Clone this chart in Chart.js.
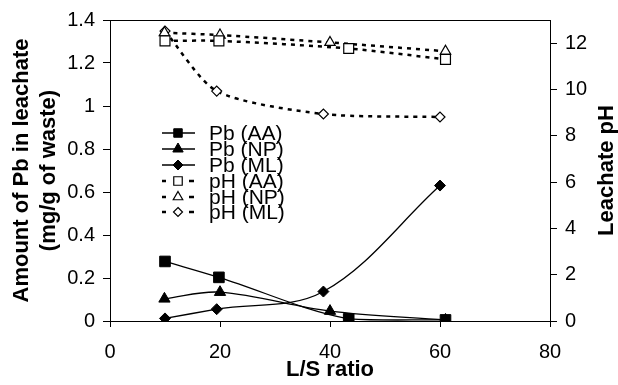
<!DOCTYPE html>
<html>
<head>
<meta charset="utf-8">
<script src="https://cdn.jsdelivr.net/npm/chart.js@4.4.1/dist/chart.umd.min.js"></script>
<style>
  html, body { margin: 0; padding: 0; background: #fff; }
  #wrap { width: 618px; height: 385px; position: relative; }
</style>
</head>
<body>
<div id="wrap"><canvas id="c" width="618" height="385"></canvas></div>
<script>
// L/S ratios per waste sample
const lsAA = [10, 19.8, 43.4, 61];
const lsNP = [9.9, 20, 40, 61];
const lsML = [10, 19.4, 38.8, 60];
// Amount of Pb in leachate (mg/g of waste)
const pbAA = [0.277, 0.203, 0.01, 0.005];
const pbNP = [0.103, 0.134, 0.046, 0.005];
const pbML = [0.012, 0.055, 0.137, 0.63];
// Leachate pH
const phAA = [12.1, 12.1, 11.77, 11.3];
const phNP = [12.45, 12.35, 12.03, 11.65];
const phML = [12.52, 9.93, 8.94, 8.81];
// labels
const seriesLabels = ['Pb (AA)', 'Pb (NP)', 'Pb (ML)', 'pH (AA)', 'pH (NP)', 'pH (ML)'];
const xTitle = 'L/S ratio';
const yTitle = ['Amount of Pb in leachate', '(mg/g of waste)'];
const y2Title = 'Leachate pH';

const FONT = "'Liberation Sans', Arial, sans-serif";
const pts = (xs, ys) => xs.map((x, i) => ({x: x, y: ys[i]}));

function pbSet(label, xs, ys, style, r) {
  return { label, data: pts(xs, ys), yAxisID: 'y', borderColor: '#000', backgroundColor: '#000',
    borderWidth: 1.3, pointStyle: style, pointRadius: r, pointHoverRadius: r,
    pointBackgroundColor: '#000', pointBorderColor: '#000', pointBorderWidth: 1,
    showLine: true, tension: 0.35, fill: false };
}
function phSet(label, xs, ys, style, r) {
  return { label, data: pts(xs, ys), yAxisID: 'y2', borderColor: '#000', backgroundColor: '#fff',
    borderWidth: 2.5, borderDash: [4, 5], pointStyle: style, pointRadius: r, pointHoverRadius: r,
    pointBackgroundColor: '#fff', pointBorderColor: '#000', pointBorderWidth: 1.2,
    showLine: true, tension: 0.25, fill: false };
}

const datasets = [
  pbSet(seriesLabels[0], lsAA, pbAA, 'rect', 7.5),
  pbSet(seriesLabels[1], lsNP, pbNP, 'triangle', 6.5),
  pbSet(seriesLabels[2], lsML, pbML, 'rectRot', 5.5),
  phSet(seriesLabels[3], lsAA, phAA, 'rect', 7),
  phSet(seriesLabels[4], lsNP, phNP, 'triangle', 6),
  phSet(seriesLabels[5], lsML, phML, 'rectRot', 5),
];
// draw pH lines beneath the Pb ones
datasets.forEach((d, i) => d.order = i < 3 ? 0 : 1);

function marker(ctx, style, x, y, r, fill) {
  ctx.beginPath();
  if (style === 'rect') {
    const s = r * Math.SQRT1_2;
    ctx.rect(x - s, y - s, 2 * s, 2 * s);
  } else if (style === 'triangle') {
    ctx.moveTo(x, y - r);
    ctx.lineTo(x + r * Math.sin(Math.PI / 3), y + r * 0.5);
    ctx.lineTo(x - r * Math.sin(Math.PI / 3), y + r * 0.5);
    ctx.closePath();
  } else {
    ctx.moveTo(x, y - r); ctx.lineTo(x + r, y); ctx.lineTo(x, y + r); ctx.lineTo(x - r, y); ctx.closePath();
  }
  ctx.fillStyle = fill; ctx.fill();
  ctx.strokeStyle = '#000'; ctx.stroke();
}

const extras = {
  id: 'extras',
  afterDraw(chart) {
    const ctx = chart.ctx, a = chart.chartArea;
    ctx.save();
    // top frame line
    ctx.strokeStyle = '#000'; ctx.lineWidth = 1;
    ctx.beginPath(); ctx.moveTo(a.left, a.top + 0.5); ctx.lineTo(a.right, a.top + 0.5); ctx.stroke();
    // right title, reading bottom-to-top
    ctx.save();
    ctx.translate(607, (a.top + a.bottom) / 2);
    ctx.rotate(-Math.PI / 2);
    ctx.font = 'bold 22px ' + FONT; ctx.fillStyle = '#000';
    ctx.textAlign = 'center'; ctx.textBaseline = 'middle';
    ctx.fillText(y2Title, 0, 0);
    ctx.restore();
    // legend
    const x0 = 162, x1 = 195, xm = 178, xt = 209;
    const ys = [133, 149, 165, 181, 197, 212];
    ctx.font = '21px ' + FONT; ctx.textBaseline = 'middle'; ctx.textAlign = 'left';
    chart.data.datasets.forEach((d, i) => {
      const y = ys[i];
      ctx.strokeStyle = '#000';
      if (i < 3) {
        ctx.lineWidth = 1.3; ctx.setLineDash([]);
        ctx.beginPath(); ctx.moveTo(x0, y); ctx.lineTo(x1, y); ctx.stroke();
      } else {
        ctx.lineWidth = 2.5; ctx.setLineDash([]);
        ctx.beginPath(); ctx.moveTo(x0, y); ctx.lineTo(x0 + 4, y); ctx.stroke();
        ctx.beginPath(); ctx.moveTo(x1 - 6, y); ctx.lineTo(x1 - 1, y); ctx.stroke();
      }
      ctx.setLineDash([]);
      ctx.lineWidth = i < 3 ? 1 : 1.2;
      const r = i < 3 ? (i === 0 ? 6 : i === 1 ? 6 : 5) : (i === 3 ? 6 : i === 4 ? 5.5 : 4.5);
      marker(ctx, d.pointStyle, xm, y, r, i < 3 ? '#000' : '#fff');
      ctx.fillStyle = '#000';
      ctx.fillText(d.label, xt, y + 1);
    });
    ctx.restore();
  }
};

const tickFont = { family: FONT, size: 20 };
new Chart(document.getElementById('c'), {
  type: 'scatter',
  data: { datasets },
  plugins: [extras],
  options: {
    responsive: false,
    animation: false,
    events: [],
    layout: { padding: { top: 16, left: 0, right: 0, bottom: 0 } },
    plugins: { legend: { display: false }, tooltip: { enabled: false } },
    scales: {
      x: {
        type: 'linear', position: 'bottom', min: 0, max: 80,
        ticks: { stepSize: 20, color: '#000', font: tickFont, padding: 13, maxRotation: 0 },
        grid: { drawOnChartArea: false, drawTicks: true, tickLength: 6, color: '#000' },
        border: { display: true, color: '#000', width: 1 },
        title: { display: true, text: xTitle, color: '#000', font: { family: FONT, size: 22, weight: 'bold' }, padding: { top: 0, bottom: 2 } },
        afterFit: (s) => { s.height = 64; }
      },
      y: {
        type: 'linear', position: 'left', min: 0, max: 1.4,
        ticks: { stepSize: 0.2, color: '#000', font: tickFont, padding: 8,
          callback: (v) => String(+Number(v).toFixed(1)) },
        grid: { drawOnChartArea: false, drawTicks: true, tickLength: 7, color: '#000' },
        border: { display: true, color: '#000', width: 1 },
        title: { display: true, text: yTitle, color: '#000', font: { family: FONT, size: 22, weight: 'bold', lineHeight: 1.2 }, padding: { top: 9, bottom: 0 } },
        afterFit: (s) => { s.width = 110; }
      },
      y2: {
        type: 'linear', position: 'right', min: 0, max: 13,
        ticks: { stepSize: 2, color: '#000', font: tickFont, padding: 8 },
        afterBuildTicks: (s) => { s.ticks = s.ticks.filter(t => t.value % 2 === 0); },
        grid: { drawOnChartArea: false, drawTicks: true, tickLength: 7, color: '#000' },
        border: { display: true, color: '#000', width: 1 },
        afterFit: (s) => { s.width = 68; }
      }
    }
  }
});
</script>
</body>
</html>
